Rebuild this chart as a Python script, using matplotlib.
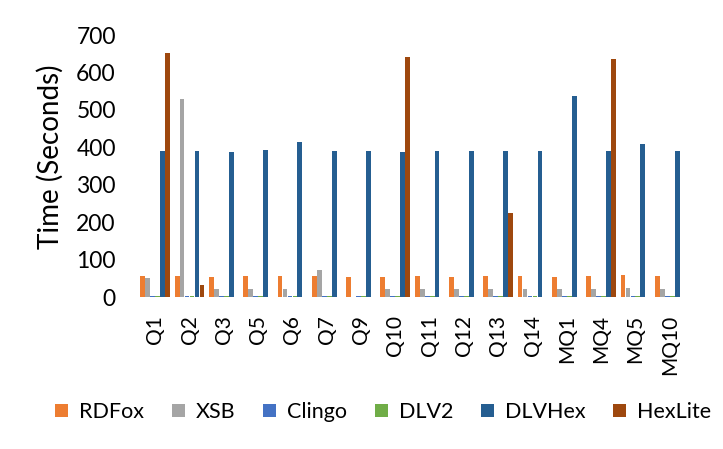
import numpy as np
import matplotlib
matplotlib.use('Agg')
import matplotlib.pyplot as plt

plt.rcParams['font.family'] = ['Lato', 'DejaVu Sans']

queries = ['Q1', 'Q2', 'Q3', 'Q5', 'Q6', 'Q7', 'Q9', 'Q10', 'Q11', 'Q12', 'Q13', 'Q14', 'MQ1', 'MQ4', 'MQ5', 'MQ10']

# times in seconds
rdfox   = [55, 55, 54, 55, 56, 56, 54, 54, 56, 54, 55, 55, 54, 55, 58, 55]
xsb     = [50, 530, 21, 21, 21, 72, 0, 21, 21, 21, 21, 21, 21, 21, 24, 21]
clingo  = [2, 2, 2, 2, 2, 2, 2, 2, 2, 2, 2, 2, 2, 2, 2, 2]
dlv2    = [2, 2, 2, 2, 2, 2, 2, 2, 2, 2, 2, 2, 2, 2, 2, 2]
dlvhex  = [389, 390, 388, 392, 415, 389, 389, 388, 390, 389, 389, 390, 538, 389, 410, 389]
hexlite = [651, 32, 0, 0, 0, 0, 0, 641, 0, 0, 225, 0, 0, 637, 0, 0]

series = [('RDFox', rdfox, '#ED7D31'),
          ('XSB', xsb, '#A5A5A5'),
          ('Clingo', clingo, '#4472C4'),
          ('DLV2', dlv2, '#70AD47'),
          ('DLVHex', dlvhex, '#255E91'),
          ('HexLite', hexlite, '#9E480E')]

fig = plt.figure(figsize=(7.23, 4.49), dpi=100)
ax = fig.add_axes([0.191, 0.3385, 0.759, 0.5835])

x = np.arange(len(queries))
step = 0.145
for i, (name, vals, col) in enumerate(series):
    ax.bar(x + (i - 2.5) * step, vals, width=0.14, color=col, label=name)

ax.set_xlim(-0.5, len(queries) - 0.5)
ax.set_ylim(0, 700)
ax.set_yticks(range(0, 701, 100))
ax.set_xticks(x)
ax.set_xticklabels(queries, rotation=90, fontsize=15)
ax.tick_params(axis='y', length=0, pad=16, labelsize=16.5)
ax.tick_params(axis='x', length=0, pad=13)
for s in ax.spines.values():
    s.set_visible(False)
ax.set_ylabel('Time (Seconds)', fontsize=20)
ax.yaxis.set_label_coords(-0.135, 0.534)

fig.legend(loc='center', bbox_to_anchor=(0.53, 1 - 412 / 449), ncol=6, frameon=False,
           fontsize=15.5, handlelength=0.6, handleheight=0.6, columnspacing=1.3,
           handletextpad=0.5)

fig.savefig('out.png', dpi=100)
